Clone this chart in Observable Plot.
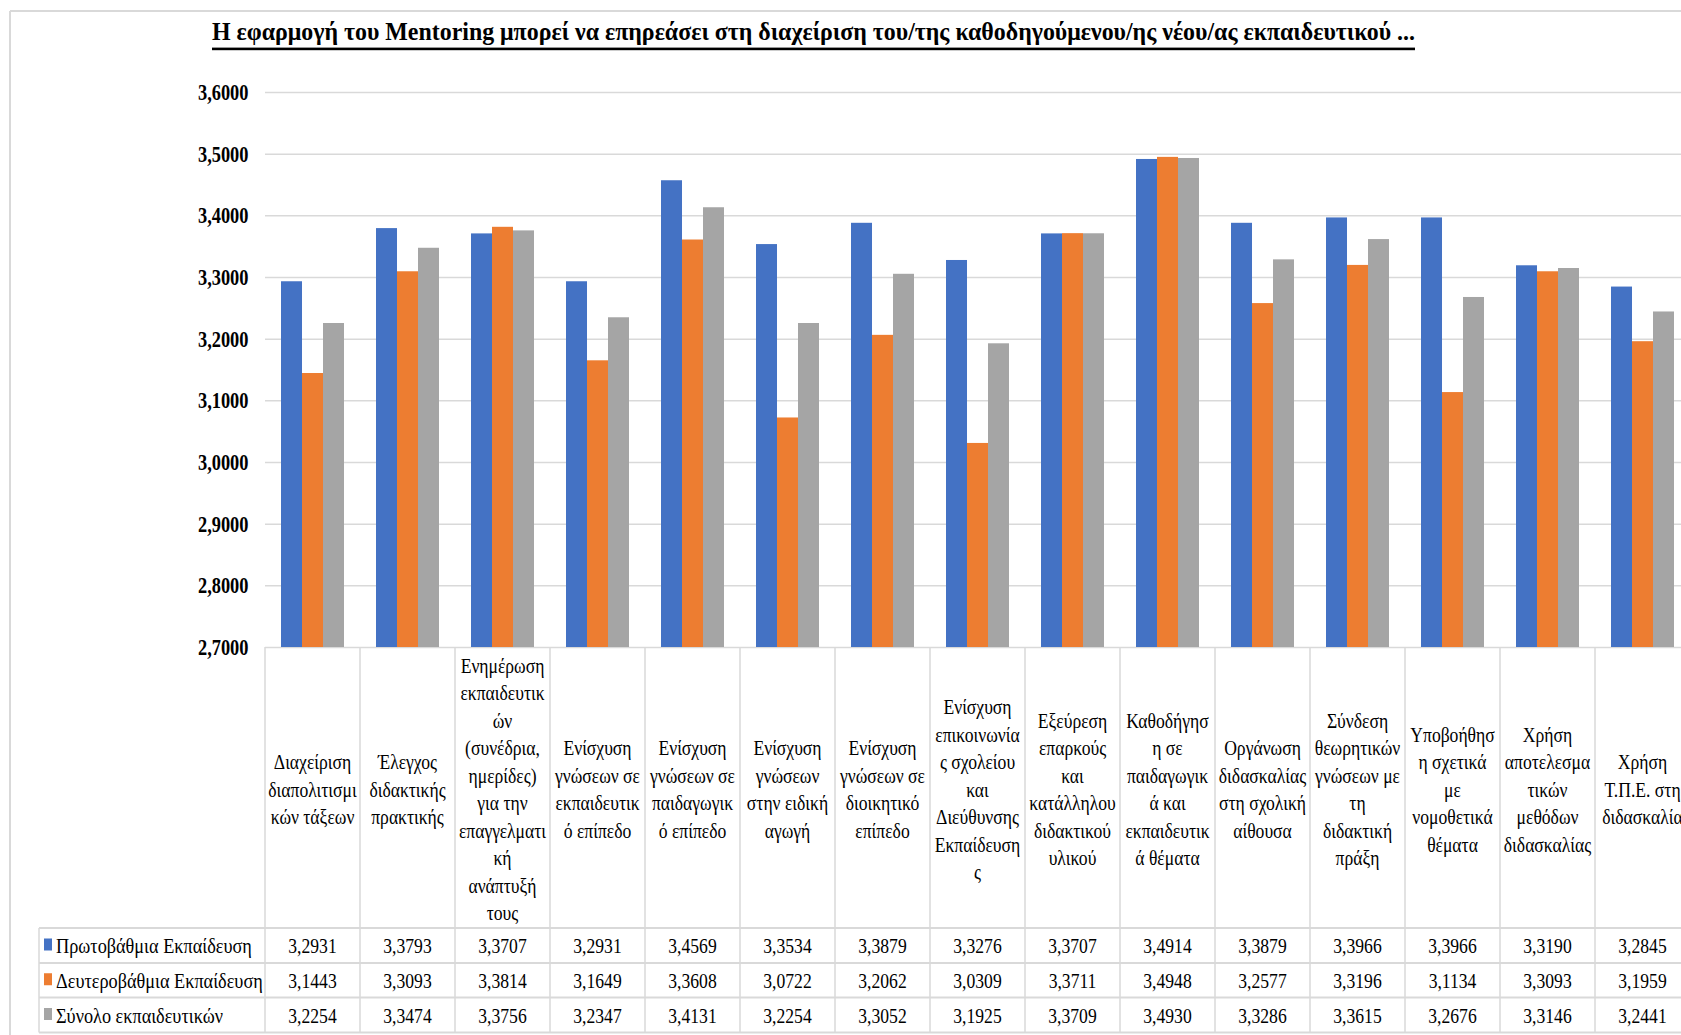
<!DOCTYPE html>
<html>
<head>
<meta charset="utf-8">
<script src="https://cdn.jsdelivr.net/npm/d3@7"></script>
<script src="https://cdn.jsdelivr.net/npm/@observablehq/plot@0.6"></script>
<style>
  html, body { margin: 0; padding: 0; background: #fff; overflow: hidden; width: 1681px; height: 1035px; }
  #chart { position: absolute; left: 0; top: 0; width: 1700px; }
</style>
</head>
<body>
<div id="chart"></div>
<script>
// ---------- DATA ----------
const title = "Η εφαρμογή του Mentoring μπορεί να επηρεάσει στη διαχείριση του/της καθοδηγούμενου/ης νέου/ας εκπαιδευτικού ...";

const categories = [
  "Διαχείριση\nδιαπολιτισμι\nκών τάξεων",
  "Έλεγχος\nδιδακτικής\nπρακτικής",
  "Ενημέρωση\nεκπαιδευτικ\nών\n(συνέδρια,\nημερίδες)\nγια την\nεπαγγελματι\nκή\nανάπτυξή\nτους",
  "Ενίσχυση\nγνώσεων σε\nεκπαιδευτικ\nό επίπεδο",
  "Ενίσχυση\nγνώσεων σε\nπαιδαγωγικ\nό επίπεδο",
  "Ενίσχυση\nγνώσεων\nστην ειδική\nαγωγή",
  "Ενίσχυση\nγνώσεων σε\nδιοικητικό\nεπίπεδο",
  "Ενίσχυση\nεπικοινωνία\nς σχολείου\nκαι\nΔιεύθυνσης\nΕκπαίδευση\nς",
  "Εξεύρεση\nεπαρκούς\nκαι\nκατάλληλου\nδιδακτικού\nυλικού",
  "Καθοδήγησ\nη σε\nπαιδαγωγικ\nά και\nεκπαιδευτικ\nά θέματα",
  "Οργάνωση\nδιδασκαλίας\nστη σχολική\nαίθουσα",
  "Σύνδεση\nθεωρητικών\nγνώσεων με\nτη\nδιδακτική\nπράξη",
  "Υποβοήθησ\nη σχετικά\nμε\nνομοθετικά\nθέματα",
  "Χρήση\nαποτελεσμα\nτικών\nμεθόδων\nδιδασκαλίας",
  "Χρήση\nΤ.Π.Ε. στη\nδιδασκαλία"
];

const seriesNames = ["Πρωτοβάθμια Εκπαίδευση", "Δευτεροβάθμια Εκπαίδευση", "Σύνολο εκπαιδευτικών"];
const seriesColors = ["#4472C4", "#ED7D31", "#A5A5A5"];

const primary   = [3.2931, 3.3793, 3.3707, 3.2931, 3.4569, 3.3534, 3.3879, 3.3276, 3.3707, 3.4914, 3.3879, 3.3966, 3.3966, 3.3190, 3.2845];
const secondary = [3.1443, 3.3093, 3.3814, 3.1649, 3.3608, 3.0722, 3.2062, 3.0309, 3.3711, 3.4948, 3.2577, 3.3196, 3.1134, 3.3093, 3.1959];
const total     = [3.2254, 3.3474, 3.3756, 3.2347, 3.4131, 3.2254, 3.3052, 3.1925, 3.3709, 3.4930, 3.3286, 3.3615, 3.2676, 3.3146, 3.2441];

const yTicks = [2.7, 2.8, 2.9, 3.0, 3.1, 3.2, 3.3, 3.4, 3.5, 3.6];

// ---------- BUILD ----------
(function () {
const seriesValues = [primary, secondary, total];
const rows = seriesValues.flatMap((vals, si) =>
  vals.map((v, ci) => ({category: categories[ci], series: seriesNames[si], si, value: v})));

const W = 1700, H = 1035;
const mLeft = 265, mRight = 1690, mTop = 92, mBottom = 647;
const band = (mRight - mLeft) / categories.length;
const groupW = band * 0.663, barW = groupW / 3, pad = (band - groupW) / 2;
const fmt = v => v.toFixed(4).replace(".", ",");
const SQ = 0.8;               // horizontal squeeze of the original's text
const SQ_LEG = 0.83;
const FONT = "'Liberation Serif', 'Times New Roman', serif";
const GRID = "#D9D9D9";

const plot = Plot.plot({
  width: W, height: H,
  marginLeft: mLeft, marginRight: W - mRight, marginTop: mTop, marginBottom: H - mBottom,
  style: {fontFamily: FONT, fontSize: "22px", color: "#000", background: "transparent", maxWidth: "none", overflow: "visible"},
  x: {domain: categories, padding: 0, axis: null},
  y: {domain: [yTicks[0], yTicks[yTicks.length - 1]], axis: null},
  marks: [
    Plot.ruleY(yTicks, {stroke: GRID, strokeWidth: 1.5}),
    ...seriesNames.map((s, si) => Plot.barY(rows.filter(r => r.si === si), {
      x: "category", y1: yTicks[0], y2: "value", fill: seriesColors[si],
      insetLeft: pad + si * barW, insetRight: band - pad - (si + 1) * barW
    })),
    Plot.axisY(yTicks, {anchor: "left", label: null, tickSize: 0, tickPadding: 17, tickFormat: fmt,
      fontWeight: "bold", fontSize: 23, fill: "#000"})
  ]
});
plot.style.maxWidth = "none";
document.getElementById("chart").appendChild(plot);

const svg = d3.select(plot);

// squeeze y-axis labels horizontally around their anchor
svg.selectAll('g[aria-label="y-axis tick label"] text').each(function() {
  const x = +this.getAttribute("x") || 0;
  const t = this.getAttribute("transform") || "";
  this.setAttribute("transform", `${t} translate(${x},0) scale(${SQ},1) translate(${-x},0)`);
});

// chart border (top & left, extends off-page)
const deco = svg.append("g");
deco.append("line").attr("x1", 10).attr("x2", W).attr("y1", 11).attr("y2", 11).attr("stroke", GRID).attr("stroke-width", 2);
deco.append("line").attr("x1", 10).attr("x2", 10).attr("y1", 11).attr("y2", H).attr("stroke", GRID).attr("stroke-width", 2);

// title
deco.append("text")
  .attr("x", 813.5).attr("y", 40)
  .attr("text-anchor", "middle")
  .attr("font-family", FONT).attr("font-weight", "bold").attr("font-size", 25)
  .attr("textLength", 1203).attr("lengthAdjust", "spacingAndGlyphs")
  .attr("fill", "#000")
  .text(title);
deco.append("rect").attr("x", 212).attr("y", 47.6).attr("width", 1203).attr("height", 2.6).attr("fill", "#000");

// ---------- DATA TABLE ----------
const xs = plot.scale("x");
const bw = xs.bandwidth;
const rowY = [928, 963, 997.5, 1032.5];
const tbl = svg.append("g").attr("font-family", FONT).attr("font-size", 22).attr("fill", "#000");

categories.forEach(c => {
  const x0 = xs.apply(c);
  tbl.append("line").attr("x1", x0).attr("x2", x0).attr("y1", mBottom).attr("y2", rowY[3])
    .attr("stroke", GRID).attr("stroke-width", 1.5);
});
const lastEdge = xs.apply(categories[categories.length - 1]) + bw;
tbl.append("line").attr("x1", lastEdge).attr("x2", lastEdge).attr("y1", mBottom).attr("y2", rowY[3])
  .attr("stroke", GRID).attr("stroke-width", 1.5);
tbl.append("line").attr("x1", 39).attr("x2", 39).attr("y1", rowY[0]).attr("y2", rowY[3])
  .attr("stroke", GRID).attr("stroke-width", 1.5);
rowY.forEach(y => {
  tbl.append("line").attr("x1", 39).attr("x2", W).attr("y1", y).attr("y2", y)
    .attr("stroke", GRID).attr("stroke-width", 2);
});

function sText(g, x, y, str, anchor, k) {
  g.append("text")
    .attr("transform", `translate(${x},${y}) scale(${k || SQ},1)`)
    .attr("text-anchor", anchor || "middle")
    .attr("dy", "0.35em")
    .text(str);
}

const headCenter = 789, lineH = 27.5;
categories.forEach(c => {
  const lines = c.split("\n");
  const cx = xs.apply(c) + bw / 2;
  const y0 = headCenter - (lines.length - 1) / 2 * lineH;
  lines.forEach((ln, i) => sText(tbl, cx, y0 + i * lineH, ln));
});

seriesNames.forEach((name, si) => {
  const cy = (rowY[si] + rowY[si + 1]) / 2;
  tbl.append("rect").attr("x", 44).attr("y", cy - 7).attr("width", 8).attr("height", 12).attr("fill", seriesColors[si]);
  sText(tbl, 56, cy, name, "start", SQ_LEG);
  categories.forEach((c, ci) => {
    sText(tbl, xs.apply(c) + bw / 2, cy, fmt(seriesValues[si][ci]));
  });
});
})();
</script>
</body>
</html>
